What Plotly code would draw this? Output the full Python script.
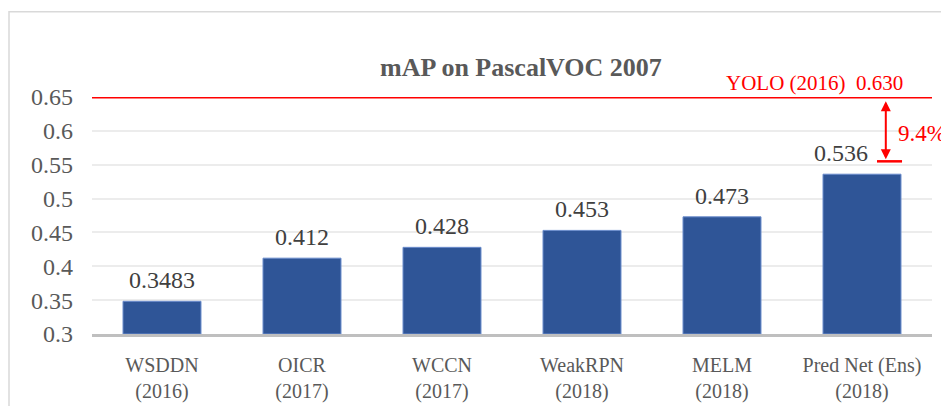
import plotly.graph_objects as go

categories = ["WSDDN<br>(2016)", "OICR<br>(2017)", "WCCN<br>(2017)", "WeakRPN<br>(2018)", "MELM<br>(2018)", "Pred Net (Ens)<br>(2018)"]
values = [0.3483, 0.412, 0.428, 0.453, 0.473, 0.536]
value_labels = ["0.3483", "0.412", "0.428", "0.453", "0.473", "0.536"]
yolo_value = 0.65
yolo_label = "YOLO (2016)  0.630"
gap_label = "9.4%"
y_ticks = [0.3, 0.35, 0.4, 0.45, 0.5, 0.55, 0.6, 0.65]
y_tick_text = ["0.3", "0.35", "0.4", "0.45", "0.5", "0.55", "0.6", "0.65"]

FONT = "Liberation Serif, Times New Roman, serif"
RED = "#ff0000"

# page body has an 8px margin; figure is sized/offset to compensate
OFF = 8
W, H = 949 - OFF, 406 - OFF
PL, PT, PW, PH = 92 - OFF, 96.5 - OFF, 840, 238


def px_to_paper_x(px):
    return (px - OFF - PL) / PW


def px_to_paper_y(py):
    return (PT + PH - (py - OFF)) / PH


fig = go.Figure()
fig.add_trace(go.Bar(
    x=list(range(len(categories))), y=[v - 0.3 for v in values], base=0.3,
    marker=dict(color="#2F5597", line=dict(color="#6a8ccc", width=1)),
    width=0.557, hoverinfo="skip",
))

annotations = []
for i, (v, t) in enumerate(zip(values, value_labels)):
    annotations.append(dict(x=i, y=v, text=t, showarrow=False, yanchor="bottom",
                            yshift=6, xshift=(-21 if i == len(values) - 1 else 0),
                            font=dict(family=FONT, size=24, color="#404040")))

# title
annotations.append(dict(xref="paper", yref="paper", x=px_to_paper_x(521), y=px_to_paper_y(67),
                        xanchor="center", yanchor="middle", showarrow=False,
                        text="<b>mAP on PascalVOC 2007</b>",
                        font=dict(family=FONT, size=26, color="#595959")))

# YOLO label (just above the reference line)
annotations.append(dict(x=5.31, y=yolo_value, text=yolo_label, showarrow=False, xanchor="right",
                        yanchor="middle", yshift=14, font=dict(family=FONT, size=21, color=RED)))
# gap label
annotations.append(dict(x=5.245, y=0.596, text=gap_label, showarrow=False, xanchor="left",
                        yanchor="middle", font=dict(family=FONT, size=23, color=RED)))
# double arrow
annotations.append(dict(x=5.17, y=0.558, ax=5.17, ay=0.646, xref="x", yref="y",
                        axref="x", ayref="y", text="", showarrow=True,
                        arrowhead=2, startarrowhead=2, arrowside="end+start",
                        arrowsize=1, arrowwidth=2, arrowcolor=RED))

shapes = [
    dict(type="line", xref="paper", yref="y", x0=0, x1=1, y0=yolo_value, y1=yolo_value,
         line=dict(color=RED, width=3)),
    dict(type="line", xref="x", yref="y", x0=5.107, x1=5.286, y0=0.555, y1=0.555,
         line=dict(color=RED, width=2.5)),
    dict(type="rect", xref="paper", yref="paper", x0=px_to_paper_x(9), x1=1.2,
         y0=-0.5, y1=px_to_paper_y(11), line=dict(color="#d9d9d9", width=1.5),
         fillcolor="rgba(0,0,0,0)", layer="below"),
]

fig.update_layout(
    width=W, height=H,
    margin=dict(l=PL, r=W - PL - PW, t=PT, b=H - PT - PH, pad=0, autoexpand=False),
    paper_bgcolor="white", plot_bgcolor="white",
    showlegend=False,
    annotations=annotations, shapes=shapes,
    font=dict(family=FONT, color="#595959"),
)
fig.update_xaxes(
    range=[-0.5, 5.5], tickmode="array", tickvals=list(range(len(categories))),
    ticktext=categories, tickfont=dict(family=FONT, size=20, color="#595959"),
    showgrid=False, showline=True, linecolor="#bfbfbf", linewidth=2.5,
    ticks="", ticklabelstandoff=11, zeroline=False, automargin=False,
)
fig.update_yaxes(
    range=[0.3, 0.65], tickmode="array", tickvals=y_ticks, ticktext=y_tick_text,
    tickfont=dict(family=FONT, size=24, color="#595959"),
    showgrid=True, gridcolor="#ececec", gridwidth=1.5, zeroline=False,
    showline=False, ticks="", ticklabelstandoff=18, automargin=False,
)

fig.write_html("out.html")
